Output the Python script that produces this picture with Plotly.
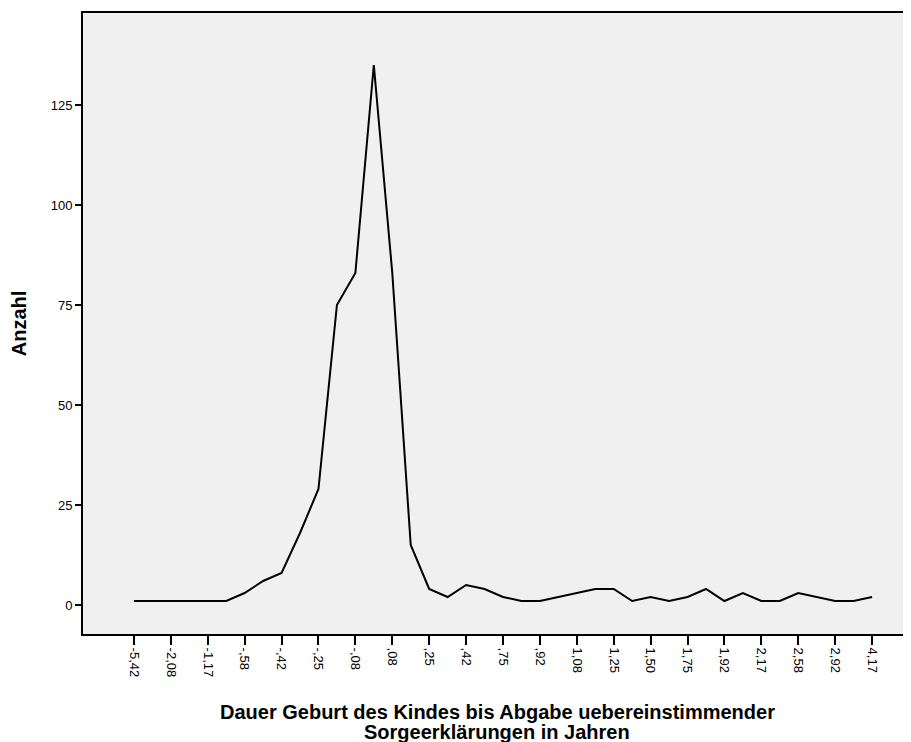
import plotly.graph_objects as go

# Tick labels shown on the category axis (every second category is labelled)
tick_labels = ['-5,42', '-2,08', '-1,17', '-,58', '-,42', '-,25', '-,08', ',08', ',25', ',42', ',75',
               ',92', '1,08', '1,25', '1,50', '1,75', '1,92', '2,17', '2,58', '2,92', '4,17']

# Counts per category (41 categories)
counts = [1, 1, 1, 1, 1, 1, 3, 6, 8, 18, 29, 75, 83, 135, 83, 15, 4, 2, 5, 4, 2,
          1, 1, 2, 3, 4, 4, 1, 2, 1, 2, 4, 1, 3, 1, 1, 3, 2, 1, 1, 2]

x_title_lines = ['Dauer Geburt des Kindes bis Abgabe uebereinstimmender',
                 'Sorgeerklärungen in Jahren']
y_title = 'Anzahl'

x_pos = list(range(len(counts)))
tick_pos = x_pos[::2]

FONT = 'Liberation Sans, Arial, sans-serif'

fig = go.Figure()

fig.add_trace(go.Scatter(
    x=x_pos,
    y=counts,
    mode='lines',
    line=dict(color='black', width=2),
    showlegend=False
))

# x axis title as two separate lines to keep the tight line spacing
for i, line in enumerate(x_title_lines):
    fig.add_annotation(
        text='<b>%s</b>' % line,
        xref='paper', yref='paper',
        x=0.5, y=0,
        xanchor='center', yanchor='middle',
        yshift=-78 - 20 * i,
        showarrow=False,
        font=dict(size=20, family=FONT, color='black')
    )

# page has an 8px body margin, so the figure is shrunk by that amount
fig.update_layout(
    width=903,
    height=734,
    margin=dict(l=75, r=0, t=5, b=108),
    paper_bgcolor='white',
    plot_bgcolor='#f0f0f0',
    font=dict(family=FONT, color='black', size=13),
    xaxis=dict(
        range=[-2.76, 42.11],
        tickvals=tick_pos,
        ticktext=tick_labels,
        tickangle=90,
        ticks='outside',
        ticklen=9,
        tickwidth=2,
        tickcolor='black',
        showgrid=False,
        zeroline=False,
        showline=True,
        linecolor='black',
        linewidth=2,
        mirror=True,
        automargin=False
    ),
    yaxis=dict(
        range=[-7.25, 148],
        tickvals=[0, 25, 50, 75, 100, 125],
        ticks='outside',
        ticklen=6,
        tickwidth=2,
        tickcolor='black',
        showgrid=False,
        zeroline=False,
        showline=True,
        linecolor='black',
        linewidth=2,
        title=dict(
            text='<b>%s</b>' % y_title,
            font=dict(size=20, family=FONT),
            standoff=20
        ),
        automargin=False
    )
)

fig.write_html("out.html")
